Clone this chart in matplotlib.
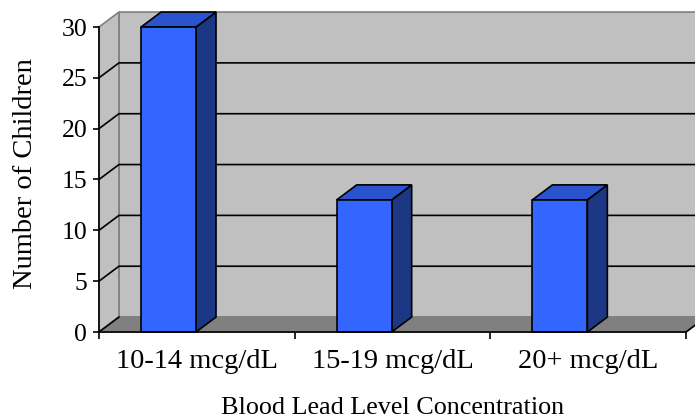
import matplotlib
matplotlib.use("Agg")
import matplotlib.pyplot as plt
from matplotlib.patches import Polygon

# ---- data ----
categories = ["10-14 mcg/dL", "15-19 mcg/dL", "20+ mcg/dL"]
children = [30, 13, 13]
y_ticks = [0, 5, 10, 15, 20, 25, 30]

# ---- style ----
WALL = "#C0C0C0"
FLOOR = "#808080"
EDGE = "#808080"
C_FRONT = "#3366FF"
C_TOP = "#2A53CE"
C_SIDE = "#1C3784"
DX, DY = 0.102, 1.47        # oblique depth offset (category units, value units)
BAR_OFF, BAR_W = 0.215, 0.281
LW = 1.2

plt.rcParams.update({
    "font.family": ["Liberation Serif", "DejaVu Serif"],
    "font.size": 18,
})

fig = plt.figure(figsize=(6.95, 4.19), dpi=100)
ax = fig.add_axes([99 / 695, (419 - 332) / 419, 587 / 695, 305 / 419])
ncat = len(categories)
ymax = max(y_ticks)
ax.set_xlim(0, ncat)
ax.set_ylim(0, ymax)
ax.patch.set_visible(False)

def poly(pts, fc, ec="black", z=1, lw=LW):
    ax.add_patch(Polygon(pts, closed=True, facecolor=fc, edgecolor=ec,
                         lw=lw, zorder=z, clip_on=False, joinstyle="miter"))

# walls
xr = ncat + DX + 0.2
poly([(DX, DY), (xr, DY), (xr, ymax + DY), (DX, ymax + DY)], WALL, EDGE, 0.5)
poly([(0, 0), (DX, DY), (DX, ymax + DY), (0, ymax)], WALL, EDGE, 0.6)
# gridlines
for v in y_ticks[1:-1]:
    ax.plot([0, DX, xr], [v, v + DY, v + DY], color="black", lw=LW,
            zorder=0.8, clip_on=False, solid_joinstyle="miter")
# floor
poly([(0, 0), (ncat, 0), (ncat + DX, DY), (DX, DY)], FLOOR, EDGE, 0.9)
ax.plot([0, DX], [0, DY], color="black", lw=LW, zorder=1, clip_on=False)
ax.plot([ncat, ncat + DX], [0, DY], color="black", lw=LW, zorder=1, clip_on=False)

# bars
for i, v in enumerate(children):
    x0 = i + BAR_OFF
    x1 = x0 + BAR_W
    poly([(x1, 0), (x1 + DX, DY), (x1 + DX, v + DY), (x1, v)], C_SIDE, z=3)
    poly([(x0, v), (x1, v), (x1 + DX, v + DY), (x0 + DX, v + DY)], C_TOP, z=3)
    poly([(x0, 0), (x1, 0), (x1, v), (x0, v)], C_FRONT, z=3)

# axes
for s in ("top", "right"):
    ax.spines[s].set_visible(False)
for s in ("left", "bottom"):
    ax.spines[s].set_linewidth(LW)
    ax.spines[s].set_zorder(4)

ax.set_yticks(y_ticks)
ax.tick_params(axis="y", direction="out", length=4.5, width=LW, pad=4, labelsize=18.5)
ax.set_xticks(range(ncat + 1))
ax.set_xticklabels([""] * (ncat + 1))
ax.tick_params(axis="x", which="major", direction="out", length=5, width=LW)
ax.set_xticks([i + 0.5 for i in range(ncat)], minor=True)
ax.set_xticklabels(categories, minor=True)
ax.tick_params(axis="x", which="minor", length=0, pad=12.5, labelsize=20.5)

ax.set_xlabel("Blood Lead Level Concentration", fontsize=18.8, va="center")
ax.xaxis.set_label_coords(0.5, -(408 - 332) / 305)
ax.set_ylabel("Number of Children", fontsize=20.5, va="center")
ax.yaxis.set_label_coords((25 - 99) / 587, (332 - 174) / 305)

fig.savefig("out.png", dpi=100, facecolor="white")
